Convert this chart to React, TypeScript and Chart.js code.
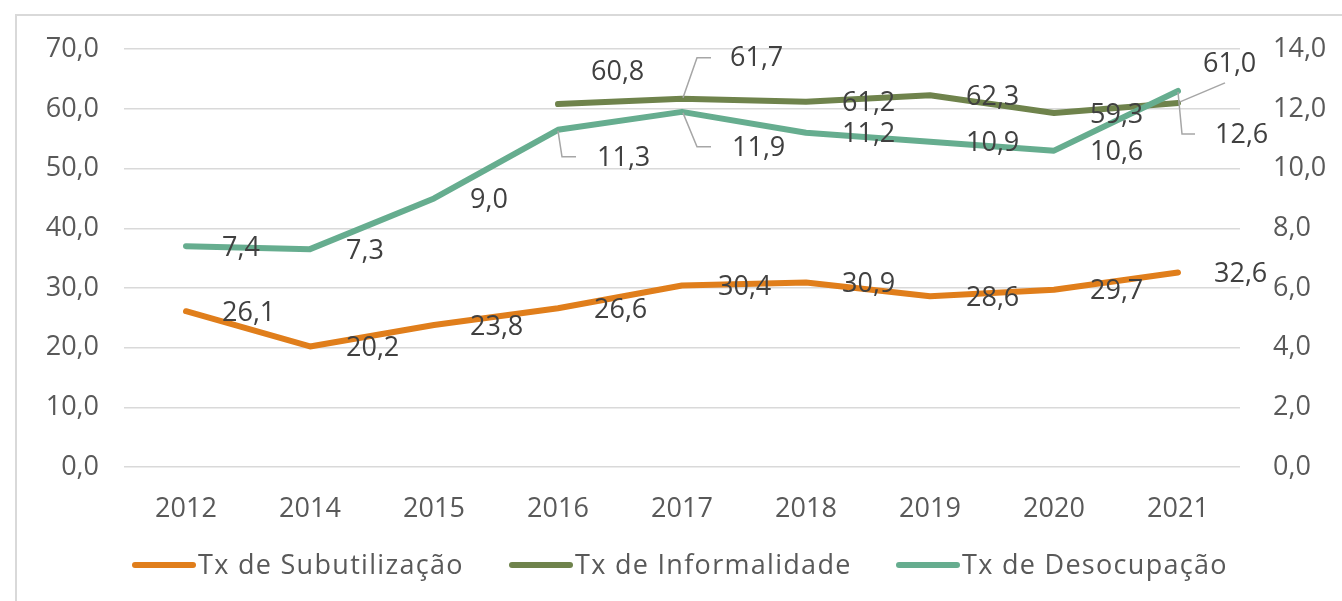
import React, { useEffect, useRef } from "react";
import Chart from "chart.js/auto";

const categories = ["2012", "2014", "2015", "2016", "2017", "2018", "2019", "2020", "2021"];
const seriesNames = ["Tx de Subutilização", "Tx de Informalidade", "Tx de Desocupação"];
const subutilizacao = [26.1, 20.2, 23.8, 26.6, 30.4, 30.9, 28.6, 29.7, 32.6];
const informalidade = [null, null, null, 60.8, 61.7, 61.2, 62.3, 59.3, 61.0];
const desocupacao = [7.4, 7.3, 9.0, 11.3, 11.9, 11.2, 10.9, 10.6, 12.6];
const leftAxisMax = 70;
const leftAxisStep = 10;
const rightAxisMax = 14;
const rightAxisStep = 2;

const COLORS = ["#E07E1B", "#6F834C", "#66AD8F"];
const FONT = '"Open Sans", "DejaVu Sans", sans-serif';
const fmt = (v: number) => v.toFixed(1).replace(".", ",");

// label placement (offsets from the point), keyed "dataset-index"
const labelLayout: Record<string, { dx: number; dy: number; leader?: number[][] }> = {
  "1-3": { dx: 33, dy: -32 },
  "1-4": { dx: 48, dy: -40, leader: [[1, -1], [15, -41], [29, -41]] },
  "1-8": { dx: 25, dy: -39, leader: [[2, -1], [47, -20]] },
  "2-3": { dx: 39, dy: 29, leader: [[0, 1], [4, 27], [18, 27]] },
  "2-4": { dx: 50, dy: 36, leader: [[1, 1], [15, 35], [29, 35]] },
  "2-8": { dx: 37, dy: 44, leader: [[0, 1], [4, 43], [17, 43]] },
};

const labelPlugin = {
  id: "dataLabels",
  afterDatasetsDraw(chart: any) {
    const ctx = chart.ctx;
    ctx.save();
    chart.data.datasets.forEach((ds: any, i: number) => {
      const meta = chart.getDatasetMeta(i);
      meta.data.forEach((pt: any, j: number) => {
        const v = ds.data[j];
        if (v === null || v === undefined) return;
        const lay = labelLayout[`${i}-${j}`] || { dx: 36, dy: 2 };
        if (lay.leader) {
          ctx.beginPath();
          ctx.strokeStyle = "#A6A6A6";
          ctx.lineWidth = 1.5;
          lay.leader.forEach((p, k) => {
            if (k === 0) ctx.moveTo(pt.x + p[0], pt.y + p[1]);
            else ctx.lineTo(pt.x + p[0], pt.y + p[1]);
          });
          ctx.stroke();
        }
        ctx.font = `27px ${FONT}`;
        ctx.fillStyle = "#404040";
        ctx.textAlign = "left";
        ctx.textBaseline = "middle";
        ctx.fillText(fmt(v), pt.x + lay.dx, pt.y + lay.dy);
      });
    });
    ctx.restore();
  },
};

const legendPlugin = {
  id: "customLegend",
  afterDraw(chart: any) {
    const ctx = chart.ctx;
    const xs = [132, 509, 896];
    const y = 565;
    ctx.save();
    seriesNames.forEach((name, i) => {
      ctx.beginPath();
      ctx.strokeStyle = COLORS[i];
      ctx.lineWidth = 6;
      ctx.lineCap = "round";
      ctx.moveTo(xs[i] + 3, y);
      ctx.lineTo(xs[i] + 61, y);
      ctx.stroke();
      ctx.font = `27px ${FONT}`;
      (ctx as any).letterSpacing = "1.3px";
      ctx.fillStyle = "#595959";
      ctx.textAlign = "left";
      ctx.textBaseline = "middle";
      ctx.fillText(name, xs[i] + 66, y + 1);
      (ctx as any).letterSpacing = "0px";
    });
    ctx.restore();
  },
};

export default function App() {
  const ref = useRef<HTMLCanvasElement | null>(null);
  useEffect(() => {
    if (!ref.current) return;
    const mk = (label: string, data: any[], color: string, axis: string, order: number) => ({
      label,
      data,
      borderColor: color,
      backgroundColor: color,
      borderWidth: 6,
      pointRadius: 0,
      pointHoverRadius: 0,
      borderCapStyle: "round",
      borderJoinStyle: "round",
      tension: 0,
      yAxisID: axis,
      order,
      spanGaps: false,
    });
    const chart = new Chart(ref.current, {
      type: "line",
      data: {
        labels: categories,
        datasets: [
          mk(seriesNames[0], subutilizacao, COLORS[0], "y", 2),
          mk(seriesNames[1], informalidade, COLORS[1], "y", 1),
          mk(seriesNames[2], desocupacao, COLORS[2], "y1", 0),
        ],
      },
      options: {
        animation: false,
        responsive: false,
        devicePixelRatio: 1,
        layout: { padding: { top: 49, left: 0, right: 0, bottom: 0 } },
        plugins: { legend: { display: false }, tooltip: { enabled: false } },
        scales: {
          x: {
            offset: true,
            grid: { display: false },
            border: { display: false },
            ticks: { color: "#595959", font: { family: FONT, size: 27 }, padding: 18, maxRotation: 0 },
            afterFit: (s: any) => { s.height = 134; },
          },
          y: {
            position: "left",
            min: 0,
            max: leftAxisMax,
            grid: { color: "#D9D9D9", lineWidth: 1.5, drawTicks: false },
            border: { display: false },
            ticks: {
              stepSize: leftAxisStep,
              color: "#595959",
              font: { family: FONT, size: 27 },
              padding: 25,
              callback: (v: any) => fmt(Number(v)),
            },
            afterFit: (s: any) => { s.width = 124; },
          },
          y1: {
            position: "right",
            min: 0,
            max: rightAxisMax,
            grid: { display: false, drawTicks: false },
            border: { display: false },
            ticks: {
              stepSize: rightAxisStep,
              color: "#595959",
              font: { family: FONT, size: 27 },
              padding: 33,
              callback: (v: any) => fmt(Number(v)),
            },
            afterFit: (s: any) => { s.width = 102; },
          },
        },
      },
      plugins: [labelPlugin, legendPlugin],
    } as any);
    return () => chart.destroy();
  }, []);
  return (
    <div style={{ position: "fixed", left: 0, top: 0, width: 1342, height: 601, background: "#fff", overflow: "hidden" }}>
      <div style={{ position: "absolute", left: 15, top: 14, width: 1400, height: 700, border: "2px solid #D9D9D9" }} />
      <canvas ref={ref} width={1342} height={601} style={{ position: "absolute", left: 0, top: 0 }} />
    </div>
  );
}
